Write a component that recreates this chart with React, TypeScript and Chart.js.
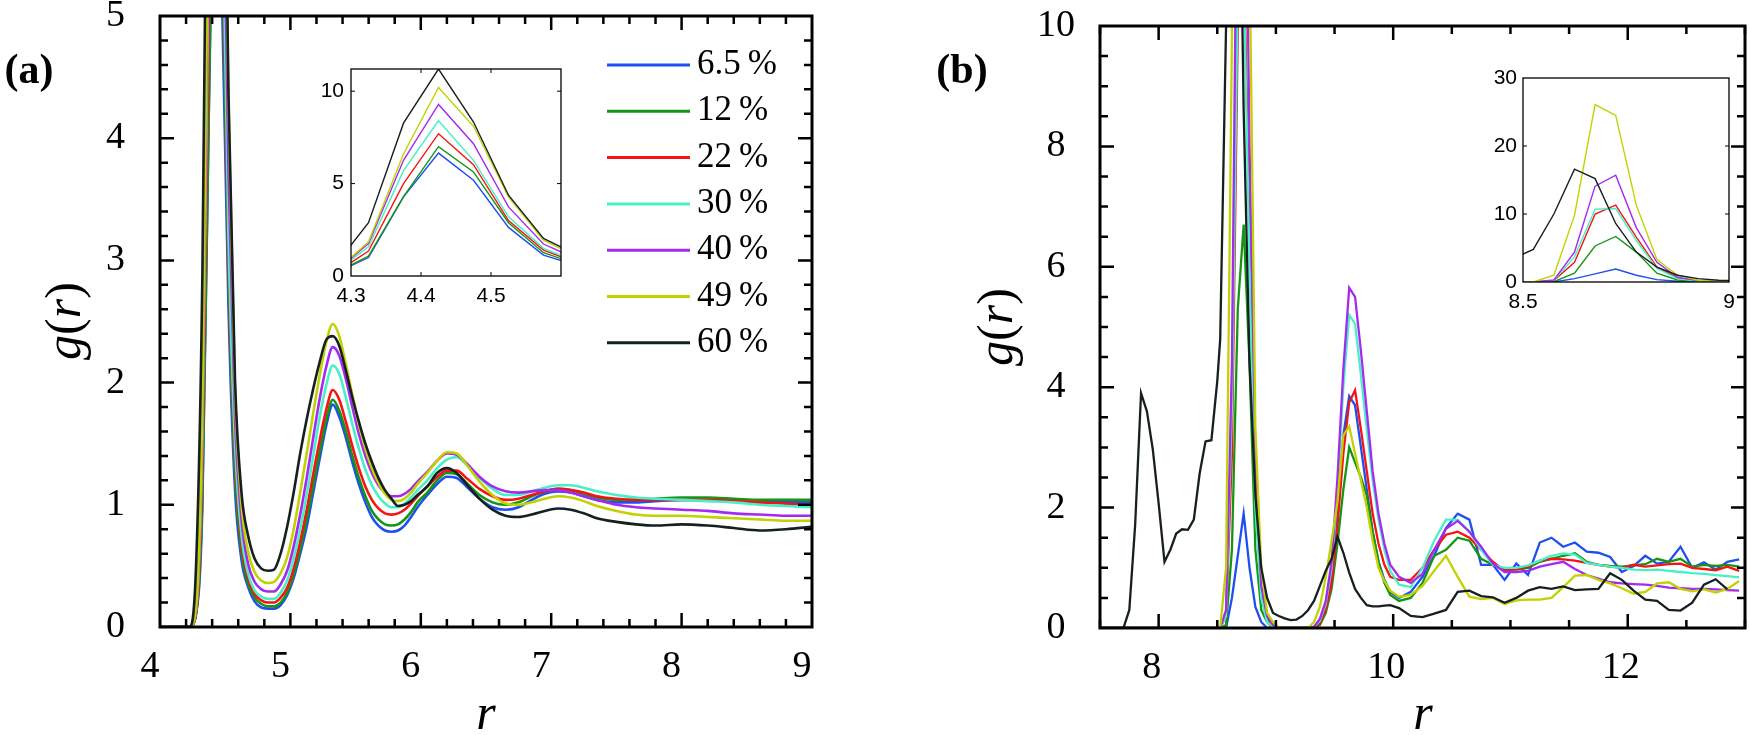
import React, { useEffect, useRef } from 'react';
import { Chart, registerables } from 'chart.js';

Chart.register(...registerables);

const W = 1750;
const H = 735;
const SERIF = '"Liberation Serif", "DejaVu Serif", serif';
const SANS = '"Liberation Sans", Arial, sans-serif';

const seriesLabels = ['6.5\u2009%', '12\u2009%', '22\u2009%', '30\u2009%', '40\u2009%', '49\u2009%', '60\u2009%'];
const seriesColors = ['#1e4ff0', '#149614', '#f51414', '#48f0c8', '#a52af0', '#c2d200', '#172020'];

// ---------- panel (a): r grid and g(r) values ----------
const rA = [
  4.0, 4.225, 4.275, 4.325, 4.375, 4.425, 4.475, 4.525, 4.575, 4.625,
  4.675, 4.725, 4.775, 4.825, 4.875, 4.925, 4.975, 5.025, 5.075, 5.125,
  5.175, 5.225, 5.275, 5.325, 5.375, 5.425, 5.475, 5.525, 5.575, 5.625,
  5.675, 5.725, 5.775, 5.825, 5.875, 5.925, 5.975, 6.05, 6.125, 6.2,
  6.275, 6.35, 6.45, 6.55, 6.65, 6.75, 6.85, 6.95, 7.05, 7.15,
  7.25, 7.35, 7.5, 7.65, 7.8, 8.0, 8.2, 8.4, 8.6, 8.8,
  9.0,
];
const gA065 = [
  0, 0, 0.1, 1.0, 4.28, 6.65, 5.18, 2.63, 1.13, 0.55,
  0.33, 0.21, 0.16, 0.15, 0.15, 0.18, 0.26, 0.4, 0.6, 0.82,
  1.1, 1.38, 1.65, 1.82, 1.72, 1.55, 1.35, 1.17, 1.02, 0.9,
  0.83, 0.79, 0.78, 0.79, 0.83, 0.9, 0.98, 1.08, 1.17, 1.23,
  1.22, 1.15, 1.05, 0.98, 0.96, 0.98, 1.04, 1.09, 1.11, 1.1,
  1.07, 1.04, 1.02, 1.02, 1.03, 1.04, 1.04, 1.03, 1.02, 1.02,
  1.02,
];
const gA12 = [
  0, 0, 0.1, 1.08, 4.3, 7.0, 5.63, 2.88, 1.26, 0.62,
  0.36, 0.24, 0.19, 0.17, 0.17, 0.2, 0.28, 0.43, 0.64, 0.88,
  1.16, 1.44, 1.7, 1.86, 1.77, 1.6, 1.4, 1.22, 1.07, 0.95,
  0.88, 0.84, 0.83, 0.84, 0.88, 0.94, 1.02, 1.1, 1.2, 1.26,
  1.25, 1.18, 1.08, 1.02, 1.0, 1.02, 1.07, 1.11, 1.13, 1.12,
  1.09, 1.06, 1.04, 1.04, 1.05, 1.06, 1.06, 1.05, 1.04, 1.04,
  1.04,
];
const gA22 = [
  0, 0, 0.1, 1.35, 5.0, 7.7, 6.02, 3.0, 1.4, 0.68,
  0.4, 0.27, 0.22, 0.2, 0.2, 0.24, 0.32, 0.48, 0.7, 0.96,
  1.25, 1.53, 1.78, 1.94, 1.86, 1.68, 1.48, 1.3, 1.15, 1.04,
  0.97, 0.93, 0.92, 0.93, 0.96, 1.01, 1.07, 1.15, 1.23, 1.28,
  1.28, 1.22, 1.13, 1.07, 1.04, 1.05, 1.08, 1.11, 1.13, 1.12,
  1.1, 1.07, 1.05, 1.04, 1.04, 1.04, 1.04, 1.03, 1.02, 1.01,
  1.0,
];
const gA30 = [
  0, 0, 0.13, 1.58, 5.7, 8.4, 6.26, 3.2, 1.5, 0.75,
  0.44, 0.3, 0.25, 0.23, 0.23, 0.28, 0.38, 0.56, 0.8, 1.08,
  1.4, 1.72, 1.98, 2.14, 2.07, 1.88, 1.66, 1.46, 1.29, 1.16,
  1.07, 1.01, 0.98, 0.98, 1.01, 1.06, 1.12, 1.2, 1.3, 1.37,
  1.39, 1.33, 1.22, 1.13, 1.08, 1.08, 1.11, 1.14, 1.16, 1.16,
  1.14, 1.11, 1.08, 1.06, 1.05, 1.04, 1.03, 1.02, 1.0, 0.99,
  0.98,
];
const gA40 = [
  0, 0, 0.14, 1.76, 6.26, 9.28, 7.16, 3.74, 1.73, 0.88,
  0.52, 0.37, 0.31, 0.29, 0.29, 0.35, 0.46, 0.66, 0.92, 1.22,
  1.55, 1.87, 2.13, 2.29, 2.22, 2.03, 1.8, 1.58, 1.4, 1.26,
  1.16, 1.1, 1.07, 1.07, 1.09, 1.13, 1.19, 1.27, 1.36, 1.42,
  1.41, 1.34, 1.23, 1.15, 1.11, 1.1, 1.11, 1.12, 1.12, 1.1,
  1.07, 1.04, 1.0, 0.98, 0.97, 0.96, 0.95, 0.93, 0.92, 0.91,
  0.91,
];
const gA49 = [
  0, 0, 0.15, 1.85, 6.6, 10.2, 8.1, 4.28, 1.94, 1.0,
  0.62, 0.45, 0.38, 0.36, 0.37, 0.44, 0.57, 0.8, 1.1, 1.42,
  1.75, 2.06, 2.33, 2.48, 2.38, 2.15, 1.9, 1.66, 1.46, 1.3,
  1.18, 1.09, 1.04, 1.03, 1.05, 1.1, 1.17, 1.26, 1.36, 1.43,
  1.42, 1.33, 1.19, 1.08, 1.01, 1.0, 1.02, 1.05, 1.07, 1.06,
  1.03, 0.99, 0.95, 0.92, 0.91, 0.91, 0.9, 0.89, 0.88, 0.87,
  0.87,
];
const gA60 = [
  0, 0, 0.46, 2.88, 8.27, 11.2, 8.33, 4.37, 2.03, 1.1,
  0.75, 0.56, 0.48, 0.46, 0.47, 0.6, 0.82, 1.1, 1.42, 1.7,
  1.95, 2.17, 2.35, 2.38, 2.3, 2.1, 1.88, 1.68, 1.5, 1.35,
  1.22, 1.12, 1.05, 0.99, 1.0, 1.03, 1.08, 1.15, 1.26, 1.3,
  1.26, 1.17, 1.05, 0.96, 0.91, 0.9, 0.92, 0.95, 0.97, 0.96,
  0.93, 0.89, 0.86, 0.84, 0.83, 0.84, 0.83, 0.81, 0.79, 0.8,
  0.82,
];

// ---------- panel (b): r grid and g(r) values ----------
const rB = [
  7.5, 7.7, 7.75, 7.8, 7.85, 7.9, 7.95, 8.0, 8.05, 8.1, 8.15, 8.2, 8.25, 8.3, 8.35, 8.4, 8.45, 8.5,
  8.525, 8.575, 8.625, 8.675, 8.725, 8.775, 8.825, 8.875, 8.925, 8.975,
  9.025, 9.075, 9.125, 9.175, 9.225, 9.275, 9.325, 9.375, 9.425, 9.475,
  9.525, 9.575, 9.625, 9.675, 9.725, 9.775, 9.825, 9.875, 9.925, 9.975,
  10.05, 10.15, 10.25, 10.35, 10.45, 10.55, 10.65, 10.75, 10.85, 10.95,
  11.05, 11.15, 11.25, 11.35, 11.45, 11.55, 11.65, 11.75, 11.85, 11.95,
  12.05, 12.15, 12.25, 12.35, 12.45, 12.55, 12.65, 12.75, 12.85, 12.95,
];
const gB065 = [
  0, 0, 0, 0, 0, 0, 0, 0, 0, 0, 0, 0, 0, 0, 0, 0, 0, 0,
  0, 0, 0.5, 1.2, 1.9, 1.0, 0.35, 0.1, 0, 0,
  0, 0, 0, 0, 0, 0, 0.01, 0.1, 0.35, 0.9,
  2.0, 3.2, 3.85, 3.7, 3.0, 2.3, 1.6, 1.1, 0.8, 0.6,
  0.5, 0.6, 0.85, 1.2, 1.66, 1.9, 1.8, 1.05, 1.05, 0.8,
  1.07, 0.88, 1.42, 1.5, 1.35, 1.42, 1.27, 1.25, 1.18, 0.93,
  1.03, 1.2, 1.07, 1.1, 1.35, 1.0, 1.09, 0.97, 1.1, 1.14,
];
const gB12 = [
  0, 0, 0, 0, 0, 0, 0, 0, 0, 0, 0, 0, 0, 0, 0, 0, 0, 0,
  0, 0.05, 1.3, 5.3, 6.7, 4.4, 1.3, 0.3, 0.1, 0,
  0, 0, 0, 0, 0, 0, 0.01, 0.05, 0.25, 0.65,
  1.4, 2.3, 3.0, 2.75, 2.5, 2.2, 1.6, 1.1, 0.75, 0.55,
  0.45, 0.5, 0.75, 1.2, 1.3, 1.5, 1.45, 1.15, 1.05, 0.98,
  0.97, 1.0, 1.1, 1.15, 1.2, 1.24, 1.1, 1.05, 1.03, 1.02,
  1.04, 1.06, 1.15, 1.1, 1.15, 1.02, 1.05, 1.03, 1.05, 1.02,
];
const gB22 = [
  0, 0, 0, 0, 0, 0, 0, 0, 0, 0, 0, 0, 0, 0, 0, 0, 0, 0,
  0, 0.2, 2.9, 10.0, 11.3, 6.6, 2.2, 0.6, 0.15, 0.02,
  0, 0, 0, 0, 0, 0, 0.01, 0.08, 0.3, 0.75,
  1.7, 2.9, 3.75, 3.95, 3.3, 2.6, 1.9, 1.4, 1.05, 0.85,
  0.8, 0.8, 1.0, 1.3, 1.55, 1.6, 1.5, 1.3, 1.1, 0.95,
  0.98, 1.02, 1.12, 1.15, 1.14, 1.12, 1.08, 1.05, 1.02, 1.0,
  1.05, 1.02, 1.04, 1.06, 1.07, 1.0, 0.98, 0.96, 1.02, 0.95,
];
const gB30 = [
  0, 0, 0, 0, 0, 0, 0, 0, 0, 0, 0, 0, 0, 0, 0, 0, 0, 0,
  0, 0.2, 3.7, 10.7, 10.8, 6.1, 2.0, 0.5, 0.1, 0.02,
  0, 0, 0, 0, 0, 0, 0.02, 0.12, 0.4, 1.0,
  2.3, 4.0, 5.2, 5.05, 4.2, 3.3, 2.45, 1.8, 1.3, 0.95,
  0.72, 0.68, 1.0, 1.45, 1.8, 1.8, 1.6, 1.3, 1.05, 1.0,
  1.0, 1.04, 1.12, 1.2, 1.24, 1.22, 1.08, 1.05, 1.02, 1.0,
  0.97, 0.96, 0.97, 0.95, 0.93, 0.91, 0.9, 0.88, 0.86, 0.84,
];
const gB40 = [
  0, 0, 0, 0, 0, 0, 0, 0, 0, 0, 0, 0, 0, 0, 0, 0, 0, 0,
  0, 0.3, 4.4, 14.1, 15.7, 8.0, 2.9, 0.7, 0.2, 0.05,
  0, 0, 0, 0, 0, 0, 0.02, 0.15, 0.45, 1.1,
  2.5, 4.3, 5.65, 5.5, 4.6, 3.6, 2.6, 1.9, 1.4, 1.05,
  0.85, 0.75, 0.9, 1.3, 1.65, 1.78, 1.6, 1.35, 1.07, 0.93,
  0.93, 0.95, 1.02, 1.06, 1.1, 0.98, 0.88, 0.82, 0.76, 0.74,
  0.73, 0.72, 0.7, 0.67, 0.66, 0.65, 0.65, 0.64, 0.63, 0.62,
];
const gB49 = [
  0, 0, 0, 0, 0, 0, 0, 0, 0, 0, 0, 0, 0, 0, 0, 0, 0, 0,
  0, 1.0, 9.8, 26.1, 24.5, 11.3, 3.3, 1.0, 0.25, 0.1,
  0, 0, 0, 0, 0, 0, 0.1, 0.35, 0.85, 1.45,
  2.1, 3.2, 3.35, 2.9, 2.45, 2.0, 1.45, 1.0, 0.78, 0.62,
  0.52, 0.55, 0.7, 0.95, 1.2, 0.85, 0.52, 0.48, 0.5, 0.4,
  0.46, 0.47, 0.47, 0.5, 0.68, 0.87, 0.88, 0.8, 0.74, 0.66,
  0.57, 0.6, 0.74, 0.76, 0.65, 0.61, 0.64, 0.59, 0.65, 0.78,
];
const gB60 = [
  0, 0, 0.3, 1.72, 3.9, 3.6, 2.97, 2.07, 1.1, 1.3, 1.57, 1.64, 1.63, 1.8, 2.57, 3.1, 3.12, 4.1,
  4.8, 10.0, 16.6, 15.2, 8.6, 4.4, 2.2, 1.0, 0.5, 0.25,
  0.2, 0.16, 0.13, 0.14, 0.2, 0.3, 0.45, 0.7, 0.95, 1.15,
  1.52, 1.25, 0.92, 0.65, 0.5, 0.38, 0.36, 0.36, 0.37, 0.38,
  0.33, 0.2, 0.18, 0.24, 0.3, 0.6, 0.62, 0.53, 0.51, 0.42,
  0.5, 0.62, 0.68, 0.65, 0.69, 0.63, 0.64, 0.65, 0.91, 0.8,
  0.62, 0.47, 0.45, 0.3, 0.29, 0.42, 0.72, 0.81, 0.64, null,
];

const seriesA = [gA065, gA12, gA22, gA30, gA40, gA49, gA60];
const seriesB = [gB065, gB12, gB22, gB30, gB40, gB49, gB60];

// ---------- tick labels ----------
const xLabA = [4, 5, 6, 7, 8, 9];
const yLabA = [0, 1, 2, 3, 4, 5];
const xLabB = [8, 10, 12];
const yLabB = [0, 2, 4, 6, 8, 10];
const xLabInA = [4.3, 4.4, 4.5];
const yLabInA = [0, 5, 10];
const xLabInB = [8.5, 9];
const yLabInB = [0, 10, 20, 30];

function seq(a: number, b: number, step: number): number[] {
  const out: number[] = [];
  const n = Math.round((b - a) / step);
  for (let i = 0; i <= n; i++) out.push(Math.round((a + i * step) * 1000) / 1000);
  return out;
}
const isMult = (v: number, m: number) => Math.abs(v / m - Math.round(v / m)) < 1e-6;

type Box = { l: number; t: number; r: number; b: number };

interface PanelSpec {
  r: number[];
  g: (number | null)[][];
  xMin: number; xMax: number; yMin: number; yMax: number;
  box: Box;
  yAxisW: number; xAxisH: number;
  xLabels: number[]; yLabels: number[];
  xMajor: number[]; xMinor: number[]; yMajor: number[]; yMinor: number[];
  majorLen: number; minorLen: number; tickWidth: number; frameWidth: number;
  fontFamily: string; fontSize: number;
  xPad: number; xOffset: number; yPad: number; yCross: 'near' | 'center';
  lineWidth: number; monotone: boolean;
  fmtX: (v: number) => string; fmtY: (v: number) => string;
  whiteBg: boolean;
  extra: any[];
}

function framePlugin(s: PanelSpec) {
  return {
    id: 'frameTicks',
    beforeDraw(chart: any) {
      if (!s.whiteBg) return;
      const a = chart.chartArea;
      const ctx = chart.ctx;
      ctx.save();
      ctx.fillStyle = '#ffffff';
      ctx.fillRect(a.left, a.top, a.right - a.left, a.bottom - a.top);
      ctx.restore();
    },
    afterDraw(chart: any) {
      const ctx = chart.ctx;
      const a = chart.chartArea;
      const xs = chart.scales.x;
      const ys = chart.scales.y;
      ctx.save();
      ctx.strokeStyle = '#000';
      ctx.lineWidth = s.tickWidth;
      ctx.lineCap = 'butt';
      ctx.beginPath();
      const vx = (vals: number[], len: number) => vals.forEach((v) => {
        const p = xs.getPixelForValue(v);
        ctx.moveTo(p, a.bottom); ctx.lineTo(p, a.bottom - len);
        ctx.moveTo(p, a.top); ctx.lineTo(p, a.top + len);
      });
      const vy = (vals: number[], len: number) => vals.forEach((v) => {
        const p = ys.getPixelForValue(v);
        ctx.moveTo(a.left, p); ctx.lineTo(a.left + len, p);
        ctx.moveTo(a.right, p); ctx.lineTo(a.right - len, p);
      });
      vx(s.xMajor, s.majorLen); vx(s.xMinor, s.minorLen);
      vy(s.yMajor, s.majorLen); vy(s.yMinor, s.minorLen);
      ctx.stroke();
      ctx.lineWidth = s.frameWidth;
      ctx.strokeRect(a.left, a.top, a.right - a.left, a.bottom - a.top);
      ctx.restore();
    },
  };
}

function drawRich(ctx: CanvasRenderingContext2D, parts: [string, string][], cx: number, cy: number, rot: number, shift: number) {
  ctx.save();
  ctx.translate(cx, cy);
  ctx.rotate(rot);
  let total = 0;
  const widths = parts.map(([t, f]) => { ctx.font = f; const w = ctx.measureText(t).width; total += w; return w; });
  let x = -total / 2;
  ctx.fillStyle = '#000';
  ctx.textAlign = 'left';
  ctx.textBaseline = 'alphabetic';
  parts.forEach(([t, f], i) => { ctx.font = f; ctx.fillText(t, x, shift); x += widths[i]; });
  ctx.restore();
}

function titlesPlugin(tag: string, tagPos: [number, number], gPos: [number, number], rPos: [number, number]) {
  const it = `italic 50px ${SERIF}`;
  const up = `50px ${SERIF}`;
  return {
    id: 'titles' + tag,
    afterDraw(chart: any) {
      const ctx = chart.ctx as CanvasRenderingContext2D;
      drawRich(ctx, [[tag, `bold 42px ${SERIF}`]], tagPos[0], tagPos[1], 0, 0.255 * 42);
      drawRich(ctx, [['g', it], ['(', up], ['r', it], [')', up]], gPos[0], gPos[1], -Math.PI / 2, 0.25 * 50);
      drawRich(ctx, [['r', it]], rPos[0], rPos[1], 0, 0.23 * 50);
    },
  };
}

const legendPlugin = {
  id: 'insideLegend',
  afterDraw(chart: any) {
    const ctx = chart.ctx as CanvasRenderingContext2D;
    const a = chart.chartArea;
    const x0 = a.left + 447;
    const x1 = a.left + 530;
    const tx = a.left + 537;
    ctx.save();
    seriesLabels.forEach((lab, i) => {
      const y = a.top + 49 + i * 46.3;
      ctx.strokeStyle = seriesColors[i];
      ctx.lineWidth = 3;
      ctx.beginPath();
      ctx.moveTo(x0, y);
      ctx.lineTo(x1, y);
      ctx.stroke();
      ctx.fillStyle = '#000';
      ctx.font = `35px ${SERIF}`;
      ctx.textAlign = 'left';
      ctx.textBaseline = 'middle';
      ctx.fillText(lab, tx, y);
    });
    ctx.restore();
  },
};

function buildConfig(s: PanelSpec): any {
  const datasets = s.g.map((ys, i) => ({
    label: seriesLabels[i],
    data: s.r.map((x, j) => ({ x, y: ys[j] })).filter((d) => d.y !== null && d.y !== undefined),
    borderColor: seriesColors[i],
    backgroundColor: seriesColors[i],
    borderWidth: s.lineWidth,
    pointRadius: 0,
    pointHoverRadius: 0,
    fill: false,
    tension: 0,
    cubicInterpolationMode: s.monotone ? 'monotone' : 'default',
    order: s.g.length - 1 - i,
  }));
  const zeroPad = (sc: any) => { sc.paddingLeft = 0; sc.paddingRight = 0; sc.paddingTop = 0; sc.paddingBottom = 0; };
  return {
    type: 'line',
    data: { datasets },
    plugins: [framePlugin(s), ...s.extra],
    options: {
      responsive: false,
      maintainAspectRatio: false,
      animation: false,
      events: [],
      layout: {
        autoPadding: false,
        padding: {
          left: s.box.l - s.yAxisW,
          top: s.box.t,
          right: W - s.box.r,
          bottom: H - s.box.b - s.xAxisH,
        },
      },
      plugins: { legend: { display: false }, tooltip: { enabled: false }, title: { display: false } },
      scales: {
        x: {
          type: 'linear',
          min: s.xMin,
          max: s.xMax,
          grid: { display: false, drawTicks: false },
          border: { display: false },
          afterBuildTicks: (sc: any) => { sc.ticks = s.xLabels.map((v) => ({ value: v })); },
          afterFit: (sc: any) => { sc.height = s.xAxisH; zeroPad(sc); },
          ticks: {
            autoSkip: false,
            maxRotation: 0,
            minRotation: 0,
            padding: s.xPad,
            labelOffset: s.xOffset,
            color: '#000',
            font: { family: s.fontFamily, size: s.fontSize },
            callback: (v: number) => s.fmtX(v),
          },
        },
        y: {
          type: 'linear',
          min: s.yMin,
          max: s.yMax,
          grid: { display: false, drawTicks: false },
          border: { display: false },
          afterBuildTicks: (sc: any) => { sc.ticks = s.yLabels.map((v) => ({ value: v })); },
          afterFit: (sc: any) => { sc.width = s.yAxisW; zeroPad(sc); },
          ticks: {
            autoSkip: false,
            padding: s.yPad,
            crossAlign: s.yCross,
            color: '#000',
            font: { family: s.fontFamily, size: s.fontSize },
            callback: (v: number) => s.fmtY(v),
          },
        },
      },
    },
  };
}

const fmtInt = (v: number) => String(v);
const fmt1 = (v: number) => v.toFixed(1);
const fmtShort = (v: number) => (isMult(v, 1) ? String(v) : v.toFixed(1));

const panelA: PanelSpec = {
  r: rA, g: seriesA, xMin: 4, xMax: 9, yMin: 0, yMax: 5,
  box: { l: 160, t: 16, r: 812, b: 627 },
  yAxisW: 130, xAxisH: 70,
  xLabels: xLabA, yLabels: yLabA,
  xMajor: seq(5, 8, 1), xMinor: seq(4, 9, 0.2).filter((v) => !isMult(v, 1)),
  yMajor: seq(1, 4, 1), yMinor: seq(0, 5, 0.2).filter((v) => !isMult(v, 1)),
  majorLen: 14, minorLen: 8, tickWidth: 2.5, frameWidth: 3,
  fontFamily: SERIF, fontSize: 38,
  xPad: 17, xOffset: -10, yPad: 35, yCross: 'center',
  lineWidth: 2.6, monotone: true,
  fmtX: fmtInt, fmtY: fmtInt, whiteBg: false,
  extra: [legendPlugin, titlesPlugin('(a)', [29, 72], [67, 321], [486, 717])],
};

const panelB: PanelSpec = {
  r: rB, g: seriesB, xMin: 7.5, xMax: 13, yMin: 0, yMax: 10,
  box: { l: 1100, t: 26, r: 1745, b: 628 },
  yAxisW: 130, xAxisH: 70,
  xLabels: xLabB, yLabels: yLabB,
  xMajor: [8, 10, 12], xMinor: seq(7.5, 13, 0.5).filter((v) => !isMult(v, 2)),
  yMajor: [2, 4, 6, 8], yMinor: seq(0, 10, 0.5).filter((v) => !isMult(v, 2)),
  majorLen: 14, minorLen: 8, tickWidth: 2.5, frameWidth: 3,
  fontFamily: SERIF, fontSize: 38,
  xPad: 17, xOffset: -7, yPad: 25, yCross: 'center',
  lineWidth: 2.3, monotone: false,
  fmtX: fmtInt, fmtY: fmtInt, whiteBg: false,
  extra: [titlesPlugin('(b)', [962, 72], [999, 327], [1423, 717])],
};

const insetA: PanelSpec = {
  r: rA, g: seriesA, xMin: 4.3, xMax: 4.6, yMin: 0, yMax: 11.2,
  box: { l: 351, t: 69, r: 561, b: 276 },
  yAxisW: 50, xAxisH: 34,
  xLabels: xLabInA, yLabels: yLabInA,
  xMajor: [4.4, 4.5], xMinor: [], yMajor: [5, 10], yMinor: [],
  majorLen: 4, minorLen: 2, tickWidth: 1, frameWidth: 1.3,
  fontFamily: SANS, fontSize: 21,
  xPad: 8, xOffset: 0, yPad: 7, yCross: 'near',
  lineWidth: 1.4, monotone: false,
  fmtX: fmt1, fmtY: fmtInt, whiteBg: true,
  extra: [],
};

const insetB: PanelSpec = {
  r: rB, g: seriesB, xMin: 8.5, xMax: 9, yMin: 0, yMax: 30,
  box: { l: 1523, t: 78, r: 1729, b: 282 },
  yAxisW: 50, xAxisH: 34,
  xLabels: xLabInB, yLabels: yLabInB,
  xMajor: [], xMinor: [], yMajor: [10, 20], yMinor: [],
  majorLen: 4, minorLen: 2, tickWidth: 1, frameWidth: 1.3,
  fontFamily: SANS, fontSize: 21,
  xPad: 8, xOffset: 0, yPad: 6, yCross: 'near',
  lineWidth: 1.4, monotone: false,
  fmtX: fmtShort, fmtY: fmtInt, whiteBg: true,
  extra: [],
};

export default function App() {
  const r0 = useRef<HTMLCanvasElement>(null);
  const r1 = useRef<HTMLCanvasElement>(null);
  const r2 = useRef<HTMLCanvasElement>(null);
  const r3 = useRef<HTMLCanvasElement>(null);
  const refs = [r0, r1, r2, r3];

  useEffect(() => {
    const specs = [panelA, panelB, insetA, insetB];
    const charts = specs.map((s, i) => new Chart(refs[i].current as HTMLCanvasElement, buildConfig(s)));
    return () => charts.forEach((c) => c.destroy());
  }, []);

  return (
    <div style={{ position: 'fixed', left: 0, top: 0, width: W, height: H, background: '#ffffff', overflow: 'hidden' }}>
      {refs.map((r, i) => (
        <canvas
          key={i}
          ref={r}
          width={W}
          height={H}
          style={{ position: 'absolute', left: 0, top: 0, width: W, height: H }}
        />
      ))}
    </div>
  );
}
